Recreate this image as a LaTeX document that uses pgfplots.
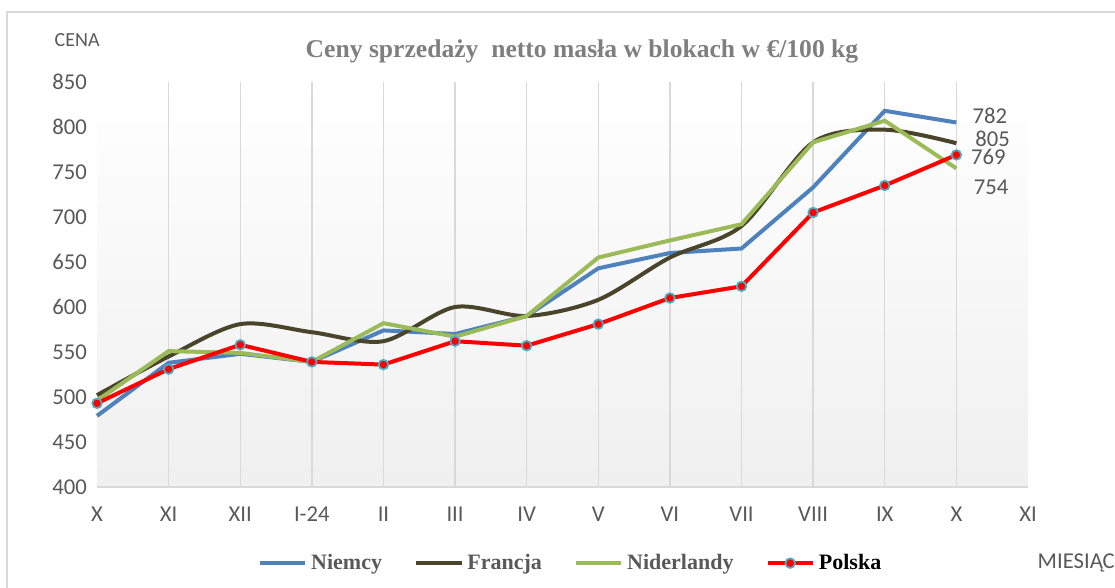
\documentclass[border=0pt]{standalone}
\usepackage{pgfplots}
\pgfplotsset{compat=1.18}
\usepackage{fontspec}
\setmainfont{Carlito}
\newfontfamily\tnr{Liberation Serif}
\definecolor{niem}{HTML}{4F81BD}
\definecolor{fran}{HTML}{4A452A}
\definecolor{nide}{HTML}{9BBB59}
\definecolor{cyanm}{HTML}{4BACC6}
\definecolor{txt}{HTML}{595959}
\definecolor{gridc}{HTML}{D9D9D9}
\definecolor{ttl}{HTML}{7F7F7F}
\begin{document}
\begin{tikzpicture}
\useasboundingbox (0,0) rectangle ({1115*0.75pt},{-588*0.75pt});
\draw[gridc, line width=1.5pt] ({7*0.75pt},{-600*0.75pt}) -- ({7*0.75pt},{-12*0.75pt}) -- ({1130*0.75pt},{-12*0.75pt});
\begin{axis}[
  at={({97*0.75pt},{-487*0.75pt})}, anchor=south west,
  scale only axis, width={931*0.75pt}, height={405*0.75pt},
  xmin=0, xmax=13, ymin=400, ymax=850,
  xtick={0,...,13},
  xticklabels={X,XI,XII,I-24,II,III,IV,V,VI,VII,VIII,IX,X,XI},
  minor xtick={1,...,12},
  ytick={400,450,...,850},
  major tick length=0pt, minor tick length=0pt,
  axis line style={draw=none},
  xminorgrids, minor x grid style={gridc, line width=1pt},
  axis background/.style={top color=white, bottom color=black!6},
  tick label style={font=\fontsize{17}{20}\selectfont, text=txt},
  xticklabel style={yshift=-10pt, text height=12pt, text depth=2pt},
  yticklabel style={xshift=-4pt},
  /pgf/number format/assume math mode=true,
  clip=false,
  legend style={at={(0.509,-0.188)}, anchor=center, draw=none, fill=none,
    legend columns=4, font=\tnr\bfseries\fontsize{16.5}{19}\selectfont, text=txt,
    /tikz/every even column/.append style={column sep=22pt},
    /tikz/every odd column/.append style={column sep=1pt}},
  legend image code/.code={\draw[mark repeat=2,mark phase=2] plot coordinates {(0pt,0pt) (17pt,0pt) (34pt,0pt)};},
]
\draw[gridc, line width=1.2pt] (rel axis cs:0,0) -- (rel axis cs:1,0);
\addplot[niem, line width=3pt] coordinates {
(0,479) (1,538) (2,548) (3,539) (4,574) (5,570) (6,590) (7,643) (8,660) (9,665) (10,733) (11,818) (12,805)};
\addlegendentry{Niemcy}
\addplot[fran, line width=3pt, smooth, tension=0.5] coordinates {
(0,502) (1,545) (2,581) (3,572) (4,562) (5,600) (6,590) (7,608) (8,655) (9,690) (10,783) (11,797) (12,782)};
\addlegendentry{Francja}
\addplot[nide, line width=3pt] coordinates {
(0,496) (1,551) (2,549) (3,539) (4,582) (5,567) (6,590) (7,655) (8,674) (9,692) (10,783) (11,807) (12,754)};
\addlegendentry{Niderlandy}
\addplot[red, line width=3pt, mark=*, mark size=3.6pt, mark options={fill=red, draw=cyanm, line width=1.3pt}] coordinates {
(0,493) (1,531) (2,558) (3,539) (4,536) (5,562) (6,557) (7,581) (8,610) (9,623) (10,705) (11,735) (12,769)};
\addlegendentry{\textcolor{black}{Polska}}
\node[anchor=west, font=\fontsize{17}{20}\selectfont, text=txt] at (axis cs:12.16,812) {782};
\node[anchor=west, font=\fontsize{17}{20}\selectfont, text=txt] at (axis cs:12.2,787) {805};
\node[anchor=west, font=\fontsize{17}{20}\selectfont, text=txt] at (axis cs:12.14,767) {769};
\node[anchor=west, font=\fontsize{17}{20}\selectfont, text=txt] at (axis cs:12.18,733) {754};
\end{axis}
\node[font=\tnr\bfseries\fontsize{19.2}{23}\selectfont, text=ttl] at ({582*0.75pt},{-51*0.75pt}) {Ceny sprzedaży\ \ netto masła w blokach w €/100 kg};
\node[anchor=west, font=\fontsize{15}{18}\selectfont, text=txt] at ({50*0.75pt},{-40*0.75pt}) {CENA};
\node[anchor=west, font=\fontsize{17}{20}\selectfont, text=txt] at ({1033*0.75pt},{-563*0.75pt}) {MIESIĄC};
\end{tikzpicture}
\end{document}
